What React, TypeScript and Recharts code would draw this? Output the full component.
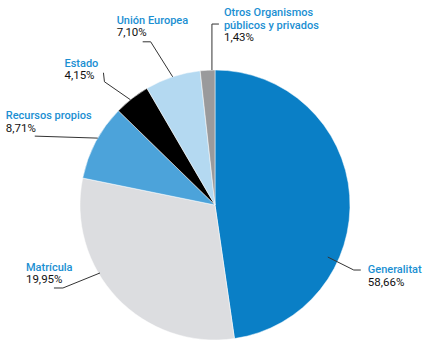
import { PieChart, Pie, Cell } from 'recharts';

// Fuentes de financiación
const names = ['Generalitat', 'Matrícula', 'Recursos propios', 'Estado', 'Unión Europea', 'Otros Organismos públicos y privados'];
// printed percentages
const labels = ['58,66%', '19,95%', '8,71%', '4,15%', '7,10%', '1,43%'];
// slice sizes as drawn in the picture (the drawing does not follow the printed figures)
const values = [47.7, 30.5, 9.1, 4.3, 6.65, 1.75];
const colors = ['#0a7fc6', '#dcdde0', '#4ca3da', '#000000', '#b4d9f1', '#9a9a9c'];

const data = names.map((name, i) => ({ name, value: values[i] }));

// label name split into lines
const nameLines = [['Generalitat'], ['Matrícula'], ['Recursos propios'], ['Estado'], ['Unión Europea'], ['Otros Organismos', 'públicos y privados']];

// leader line layout: angle shift, radius factor, elbow points and text anchor relative to start
const layout = [
  { dA: -28.9, k: 0.92, pts: [[26, 13], [33, 13]], text: [40, 16] },
  { dA: -12.8, k: 0.99, pts: [[-37, 15], [-46, 15]], text: [-74, -2] },
  { dA: -1.8, k: 1, pts: [[-63, -2]], text: [-92, -19] },
  { dA: 0.8, k: 1, pts: [[-26, -18], [-27, -27]], text: [-66, -33] },
  { dA: 0, k: 1, pts: [[-22, -35], [-30, -35]], text: [-56, -53] },
  { dA: -1.85, k: 1, pts: [[0, -46], [7, -46]], text: [12, -54] },
];

const RAD = Math.PI / 180;

const renderLabel = (props: any) => {
  const { cx, cy, midAngle, outerRadius, index } = props;
  const l = layout[index];
  const a = (midAngle + l.dA) * RAD;
  const r = outerRadius * l.k;
  const sx = cx + r * Math.cos(a);
  const sy = cy - r * Math.sin(a);
  const points = [[sx, sy], ...l.pts.map(([dx, dy]) => [sx + dx, sy + dy])]
    .map((p) => p.join(','))
    .join(' ');
  const tx = sx + l.text[0];
  const ty = sy + l.text[1];
  const lines = nameLines[index];
  return (
    <g key={'lbl' + index}>
      <polyline points={points} fill="none" stroke="#333" strokeWidth={1} />
      {lines.map((t, j) => (
        <text key={j} x={tx} y={ty + j * 12.5} fill="#1b8fd2" fontSize={11} fontWeight={500} fontFamily="Roboto">
          {t}
        </text>
      ))}
      <text x={tx} y={ty + lines.length * 12.5} fill="#111" fontSize={11.5} fontFamily="Roboto">
        {labels[index]}
      </text>
    </g>
  );
};

export default function App() {
  return (
    <div style={{ position: 'absolute', left: 0, top: 0, background: '#fff' }}>
      <PieChart width={428} height={360} margin={{ top: 0, right: 0, bottom: 0, left: 0 }}>
        <Pie
          data={data}
          dataKey="value"
          nameKey="name"
          cx={215}
          cy={205}
          outerRadius={135}
          startAngle={90}
          endAngle={-270}
          stroke="#fff"
          strokeWidth={0.5}
          label={renderLabel}
          labelLine={false}
          isAnimationActive={false}
        >
          {data.map((d, i) => (
            <Cell key={d.name} fill={colors[i]} />
          ))}
        </Pie>
      </PieChart>
    </div>
  );
}
